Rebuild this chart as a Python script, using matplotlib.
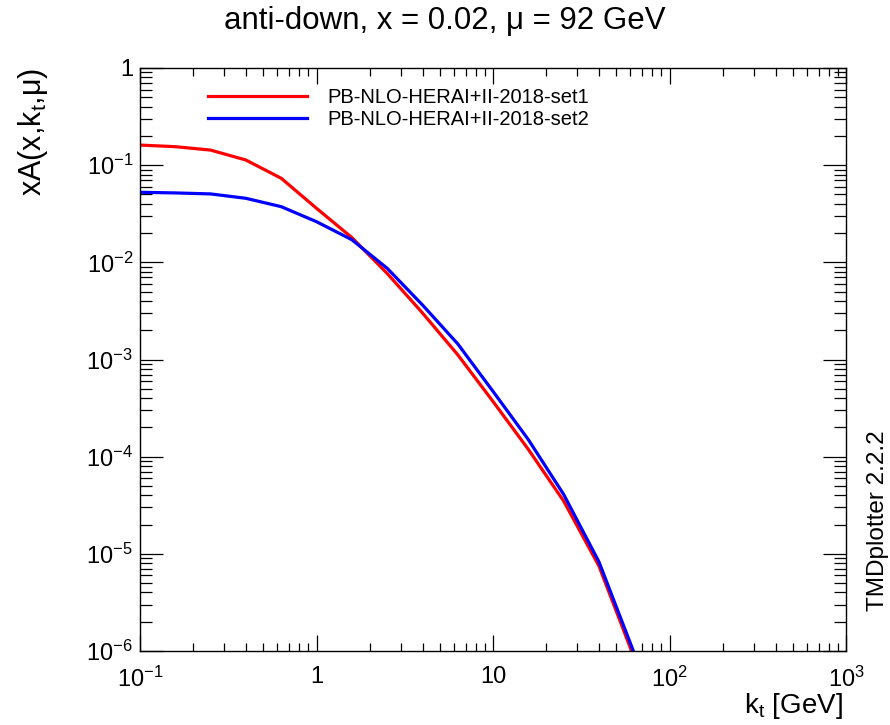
import matplotlib
matplotlib.use("Agg")
import matplotlib.pyplot as plt
from matplotlib.ticker import FixedLocator, FixedFormatter, LogLocator, NullFormatter

plt.rcParams['font.family'] = ['Liberation Sans', 'DejaVu Sans']
plt.rcParams['mathtext.fontset'] = 'custom'
plt.rcParams['mathtext.rm'] = 'Liberation Sans'
plt.rcParams['mathtext.it'] = 'Liberation Sans'
plt.rcParams['mathtext.bf'] = 'Liberation Sans:bold'

# ---- data ----
kt = [0.1, 0.158, 0.251, 0.398, 0.631, 1.0, 1.585, 2.512, 3.981, 6.31,
      10.0, 15.85, 25.12, 39.81, 63.1]
set1 = [0.161, 0.155, 0.143, 0.113, 0.0733, 0.036, 0.0180, 0.0077, 0.00302,
        1.12e-3, 3.7e-4, 1.19e-4, 3.5e-5, 7.5e-6, 8.5e-7]
set2 = [0.0526, 0.0518, 0.0506, 0.0456, 0.0374, 0.0262, 0.0171, 0.0087,
        0.00365, 1.45e-3, 4.7e-4, 1.5e-4, 4.1e-5, 8.3e-6, 9.5e-7]
labels = ["PB-NLO-HERAI+II-2018-set1", "PB-NLO-HERAI+II-2018-set2"]
xticks = [0.1, 1, 10, 100, 1000]
xticklabels = ["$10^{-1}$", "1", "10", "$10^{2}$", "$10^{3}$"]
yticks = [1e-6, 1e-5, 1e-4, 1e-3, 1e-2, 1e-1, 1]
yticklabels = ["$10^{-6}$", "$10^{-5}$", "$10^{-4}$", "$10^{-3}$",
               "$10^{-2}$", "$10^{-1}$", "1"]

fig = plt.figure(figsize=(8.9, 7.25), dpi=100)
ax = fig.add_axes([140/890, 1-651/725, (846-140)/890, (651-68)/725])

ax.plot(kt, set1, color='#ff0000', lw=2.3, label=labels[0])
ax.plot(kt, set2, color='#0000ff', lw=2.3, label=labels[1])

ax.set_xscale('log')
ax.set_yscale('log')
ax.set_xlim(0.1, 1000)
ax.set_ylim(1e-6, 1)

ax.xaxis.set_major_locator(FixedLocator(xticks))
ax.xaxis.set_major_formatter(FixedFormatter(xticklabels))
ax.xaxis.set_minor_locator(LogLocator(base=10, subs=range(2, 10), numticks=20))
ax.xaxis.set_minor_formatter(NullFormatter())
ax.yaxis.set_major_locator(FixedLocator(yticks))
ax.yaxis.set_major_formatter(FixedFormatter(yticklabels))
ax.yaxis.set_minor_locator(LogLocator(base=10, subs=range(2, 10), numticks=20))
ax.yaxis.set_minor_formatter(NullFormatter())

ax.tick_params(axis='both', which='both', direction='in', top=True, right=True,
               width=0.9, labelsize=17)
ax.tick_params(axis='x', which='major', length=11.5, pad=11)
ax.tick_params(axis='x', which='minor', length=5.8)
ax.tick_params(axis='y', which='major', length=16.5, pad=5)
ax.tick_params(axis='y', which='minor', length=8.6)
for s in ax.spines.values():
    s.set_linewidth(1.0)

fig.text(0.5, 1-21/725, "anti-down, x = 0.02, μ = 92 GeV", fontsize=22.5,
         ha='center', va='center')
ax.set_ylabel("xA(x,k$_{t}$,μ)", fontsize=22, loc='top')
ax.yaxis.set_label_coords(-0.1275, 1.0)
ax.set_xlabel("k$_{t}$ [GeV]", fontsize=20, loc='right')
ax.xaxis.set_label_coords(0.996, -0.069)

leg = ax.legend(loc='upper left', bbox_to_anchor=(0.0963, 0.965), frameon=False,
                fontsize=14.5, handlelength=4.9, handletextpad=1.04,
                labelspacing=0.12, borderaxespad=0, borderpad=0)

fig.text(878/890, 1-521/725, "TMDplotter 2.2.2", rotation=90, fontsize=17.5,
         ha='center', va='center')

fig.savefig("out.png", dpi=100)
